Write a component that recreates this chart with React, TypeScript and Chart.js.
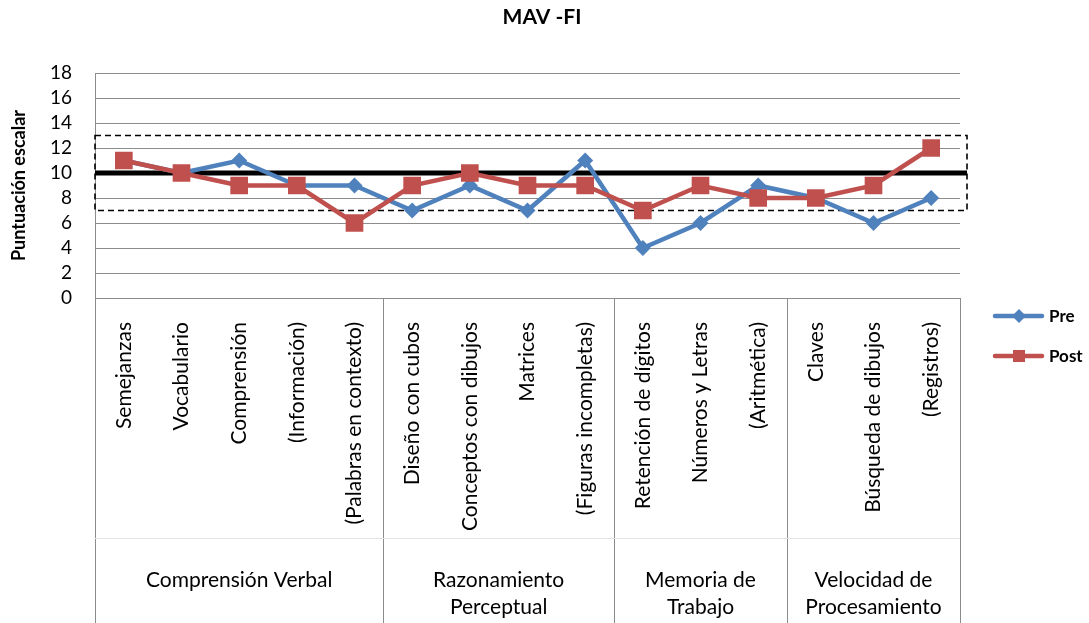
import { useEffect, useRef } from 'react';
import { Chart, registerables } from 'chart.js';

Chart.register(...registerables);

const chartTitle = 'MAV -FI';
const yAxisTitle = 'Puntuación escalar';

const subtests = [
  'Semejanzas',
  'Vocabulario',
  'Comprensión',
  '(Información)',
  '(Palabras en contexto)',
  'Diseño con cubos',
  'Conceptos con dibujos',
  'Matrices',
  '(Figuras incompletas)',
  'Retención de dígitos',
  'Números y Letras',
  '(Aritmética)',
  'Claves',
  'Búsqueda de dibujos',
  '(Registros)',
];

const indexNames = [
  'Comprensión Verbal',
  'Razonamiento\nPerceptual',
  'Memoria de\nTrabajo',
  'Velocidad de\nProcesamiento',
];
const indexSizes = [5, 4, 3, 3];

const preScores = [11, 10, 11, 9, 9, 7, 9, 7, 11, 4, 6, 9, 8, 6, 8];
const postScores = [11, 10, 9, 9, 6, 9, 10, 9, 9, 7, 9, 8, 8, 9, 12];

const meanScore = 10;
const normalBand = [7, 13];

const seriesNames = ['Pre', 'Post'];
const seriesColors = ['#4F81BD', '#C0504D'];

const FONT = 'Lato, "Open Sans", sans-serif';
const GRID = '#8c8c8c';

const decorations = {
  id: 'decorations',
  beforeDatasetsDraw(chart: any) {
    const { ctx, chartArea } = chart;
    const y = chart.scales.y;
    const left = chartArea.left;
    const right = chartArea.right + 7;
    const yTop = y.getPixelForValue(normalBand[1]);
    const yBot = y.getPixelForValue(normalBand[0]);
    const yMean = y.getPixelForValue(meanScore);
    ctx.save();
    // band of normal scores
    ctx.strokeStyle = '#000';
    ctx.lineWidth = 1.6;
    ctx.setLineDash([6, 4]);
    ctx.strokeRect(left, yTop, right - left, yBot - yTop);
    ctx.setLineDash([]);
    // mean line
    ctx.lineWidth = 5;
    ctx.beginPath();
    ctx.moveTo(left, yMean);
    ctx.lineTo(right, yMean);
    ctx.stroke();
    ctx.restore();
  },
  afterDraw(chart: any) {
    const { ctx, chartArea, height } = chart;
    const x = chart.scales.x;
    const bottom = chartArea.bottom;
    const left = chartArea.left;
    const right = chartArea.right;
    const step = (right - left) / subtests.length;

    ctx.save();
    ctx.fillStyle = '#000';

    // title
    ctx.font = `bold 21px ${FONT}`;
    ctx.textAlign = 'center';
    ctx.textBaseline = 'middle';
    ctx.fillText(chartTitle, 542, 17);

    // y axis title
    ctx.save();
    ctx.translate(19, (chartArea.top + bottom) / 2);
    ctx.rotate(-Math.PI / 2);
    ctx.font = `bold 18px ${FONT}`;
    ctx.fillText(yAxisTitle, 0, 0);
    ctx.restore();

    // table under the axis
    ctx.strokeStyle = GRID;
    ctx.lineWidth = 1;
    ctx.beginPath();
    ctx.moveTo(left, bottom + 0.5);
    ctx.lineTo(right, bottom + 0.5);
    ctx.moveTo(Math.round(left) + 0.5, bottom);
    ctx.lineTo(Math.round(left) + 0.5, height);
    ctx.moveTo(Math.round(right) + 0.5, bottom);
    ctx.lineTo(Math.round(right) + 0.5, height);
    let acc = 0;
    for (let g = 0; g < indexSizes.length - 1; g++) {
      acc += indexSizes[g];
      const gx = Math.round(left + acc * step) + 0.5;
      ctx.moveTo(gx, bottom);
      ctx.lineTo(gx, height);
    }
    ctx.stroke();
    ctx.strokeStyle = '#e4e4e4';
    ctx.beginPath();
    ctx.moveTo(left, 538.5);
    ctx.lineTo(right, 538.5);
    ctx.stroke();

    // subtest labels
    ctx.font = `21px ${FONT}`;
    ctx.textAlign = 'right';
    ctx.textBaseline = 'middle';
    subtests.forEach((s, i) => {
      const cx = x.getPixelForValue(i);
      ctx.save();
      ctx.translate(cx, 322);
      ctx.rotate(-Math.PI / 2);
      ctx.fillText(s, 0, 0);
      ctx.restore();
    });

    // index labels
    ctx.textAlign = 'center';
    acc = 0;
    indexNames.forEach((name, g) => {
      const gx = left + (acc + indexSizes[g] / 2) * step;
      acc += indexSizes[g];
      name.split('\n').forEach((line, k) => {
        ctx.fillText(line, gx, 580 + k * 27);
      });
    });

    // legend
    const legendY = [316, 356];
    ctx.font = `bold 17px ${FONT}`;
    ctx.textAlign = 'left';
    seriesNames.forEach((n, k) => {
      const ly = legendY[k];
      ctx.strokeStyle = seriesColors[k];
      ctx.fillStyle = seriesColors[k];
      ctx.lineWidth = 4.5;
      ctx.lineCap = 'round';
      ctx.beginPath();
      ctx.moveTo(995, ly);
      ctx.lineTo(1042, ly);
      ctx.stroke();
      if (k === 0) {
        ctx.beginPath();
        ctx.moveTo(1019, ly - 7);
        ctx.lineTo(1026, ly);
        ctx.lineTo(1019, ly + 7);
        ctx.lineTo(1012, ly);
        ctx.closePath();
        ctx.fill();
      } else {
        ctx.fillRect(1013, ly - 6, 12, 12);
      }
      ctx.fillStyle = '#000';
      ctx.fillText(n, 1049, ly + 1);
    });
    ctx.restore();
  },
};

export default function App() {
  const ref = useRef<HTMLCanvasElement | null>(null);

  useEffect(() => {
    document.body.style.margin = '0';
    const canvas = ref.current;
    if (!canvas) return;
    const chart = new Chart(canvas, {
      type: 'line',
      data: {
        labels: subtests,
        datasets: [
          {
            label: seriesNames[0],
            data: preScores,
            borderColor: seriesColors[0],
            backgroundColor: seriesColors[0],
            borderWidth: 4.5,
            pointStyle: 'rectRot',
            pointRadius: 8,
            pointBorderWidth: 0,
            pointHoverRadius: 8,
            order: 1,
          },
          {
            label: seriesNames[1],
            data: postScores,
            borderColor: seriesColors[1],
            backgroundColor: seriesColors[1],
            borderWidth: 4.5,
            pointStyle: 'rect',
            pointRadius: 12.5,
            pointBorderWidth: 0,
            pointHoverRadius: 12.5,
            order: 0,
          },
        ],
      },
      options: {
        responsive: false,
        animation: false,
        devicePixelRatio: 1,
        layout: { padding: { top: 73, right: 129, bottom: 325, left: 0 } },
        plugins: {
          legend: { display: false },
          title: { display: false },
          tooltip: { enabled: false },
        },
        scales: {
          x: {
            offset: true,
            ticks: { display: false },
            grid: { display: false, drawTicks: false },
            border: { display: false },
            afterFit: (s: any) => {
              s.height = 0;
            },
          },
          y: {
            min: 0,
            max: 18,
            ticks: {
              stepSize: 2,
              autoSkip: false,
              padding: 23,
              color: '#000',
              font: { family: FONT, size: 19 },
            },
            grid: { color: GRID, drawTicks: false },
            border: { color: GRID },
            afterFit: (s: any) => {
              s.width = 95;
            },
          },
        },
      },
      plugins: [decorations],
    });
    return () => chart.destroy();
  }, []);

  return (
    <div style={{ position: 'absolute', left: 0, top: 0, width: 1089, height: 623 }}>
      <canvas ref={ref} width={1089} height={623} />
    </div>
  );
}
